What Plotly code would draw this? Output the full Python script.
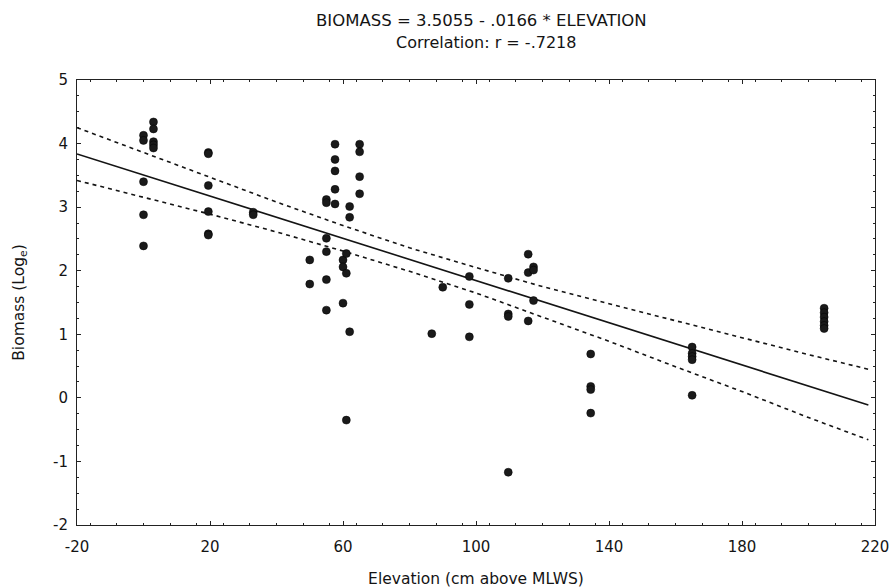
import plotly.graph_objects as go

# ---- data ----
elevation = [0, 0, 0, 0, 0,
             3, 3, 3, 3, 3,
             19.5, 19.5, 19.5, 19.5, 19.5, 19.5,
             33, 33,
             50, 50,
             55, 55, 55, 55, 55, 55,
             57.6, 57.6, 57.6, 57.6, 57.6,
             60, 60, 60,
             61, 61, 61,
             62, 62, 62,
             65, 65, 65, 65,
             86.7, 90,
             98, 98, 98,
             109.7, 109.7, 109.7, 109.7,
             115.7, 115.7, 115.7,
             117.3, 117.3, 117.3,
             134.5, 134.5, 134.5, 134.5,
             165, 165, 165, 165, 165,
             204.7, 204.7, 204.7, 204.7, 204.7, 204.7]
biomass = [4.13, 4.05, 3.40, 2.88, 2.39,
           4.34, 4.23, 4.03, 3.98, 3.93,
           3.86, 3.84, 3.34, 2.93, 2.58, 2.56,
           2.92, 2.88,
           2.17, 1.79,
           3.12, 3.07, 2.51, 2.30, 1.86, 1.38,
           3.99, 3.75, 3.57, 3.28, 3.05,
           2.17, 2.06, 1.49,
           2.27, 1.96, -0.35,
           3.01, 2.84, 1.04,
           3.99, 3.87, 3.48, 3.21,
           1.01, 1.74,
           1.91, 1.47, 0.96,
           1.88, 1.32, 1.28, -1.17,
           2.26, 1.97, 1.21,
           2.06, 2.01, 1.53,
           0.69, 0.18, 0.13, -0.24,
           0.80, 0.70, 0.65, 0.60, 0.04,
           1.41, 1.34, 1.27, 1.20, 1.14, 1.09]

# regression (from the title) and confidence band values
intercept = 3.5055
slope = -0.0166
band_x = [-20, 0, 20, 40, 60, 80, 100, 120, 140, 160, 180, 200, 218]
band_upper = [4.25, 3.86, 3.46, 3.08, 2.71, 2.36, 2.05, 1.75, 1.48, 1.21, 0.94, 0.68, 0.45]
band_lower = [3.42, 3.16, 2.89, 2.61, 2.31, 1.99, 1.65, 1.27, 0.89, 0.49, 0.10, -0.31, -0.66]

fit_x = [-20, 218]
fit_y = [intercept + slope * v for v in fit_x]

x_ticks = [-20, 20, 60, 100, 140, 180, 220]
y_ticks = [-2, -1, 0, 1, 2, 3, 4, 5]

FONT = "DejaVu Sans, Verdana, sans-serif"
INK = "#141414"

fig = go.Figure()
fig.add_trace(go.Scatter(x=band_x, y=band_upper, mode="lines",
                         line=dict(color=INK, width=1.6, dash="4px,4px"),
                         hoverinfo="skip", showlegend=False))
fig.add_trace(go.Scatter(x=band_x, y=band_lower, mode="lines",
                         line=dict(color=INK, width=1.6, dash="4px,4px"),
                         hoverinfo="skip", showlegend=False))
fig.add_trace(go.Scatter(x=fit_x, y=fit_y, mode="lines",
                         line=dict(color=INK, width=1.6),
                         showlegend=False))
fig.add_trace(go.Scatter(x=elevation, y=biomass, mode="markers",
                         marker=dict(color="#1a1a1a", size=8,
                                     line=dict(color="#000", width=0.5)),
                         showlegend=False))

axis_common = dict(showgrid=False, zeroline=False, showline=True,
                   linecolor="#222", linewidth=1, mirror="allticks",
                   ticks="inside", ticklen=4, tickcolor="#222",
                   tickfont=dict(family=FONT, size=15, color=INK))

fig.update_xaxes(range=[-20, 220], tickvals=x_ticks,
                 ticktext=[str(v) for v in x_ticks],
                 ticklabelstandoff=8,
                 minor=dict(ticks="inside", ticklen=2, dtick=8, tickcolor="#222"),
                 title=dict(text="Elevation (cm above MLWS)",
                            font=dict(family=FONT, size=15.5, color=INK),
                            standoff=18),
                 automargin=False,
                 **axis_common)
fig.update_yaxes(range=[-2, 5], tickvals=y_ticks,
                 ticktext=[str(v) for v in y_ticks],
                 ticklabelstandoff=5,
                 minor=dict(ticks="inside", ticklen=2, dtick=0.25, tickcolor="#222"),
                 title=dict(text="Biomass (Log<sub>e</sub>)",
                            font=dict(family=FONT, size=15.5, color=INK),
                            standoff=24),
                 automargin=False,
                 **axis_common)

fig.add_annotation(text="BIOMASS = 3.5055 - .0166 * ELEVATION",
                   xref="paper", yref="paper", x=0.507, y=1.0, yshift=60,
                   yanchor="middle",
                   showarrow=False, font=dict(family=FONT, size=16.5, color=INK))
fig.add_annotation(text="Correlation: r = -.7218",
                   xref="paper", yref="paper", x=0.512, y=1.0, yshift=38,
                   yanchor="middle",
                   showarrow=False, font=dict(family=FONT, size=16, color=INK))

fig.update_layout(width=894, height=588,
                  margin=dict(l=77, r=19, t=80, b=63),
                  plot_bgcolor="white", paper_bgcolor="white")

fig.write_html("out.html")
